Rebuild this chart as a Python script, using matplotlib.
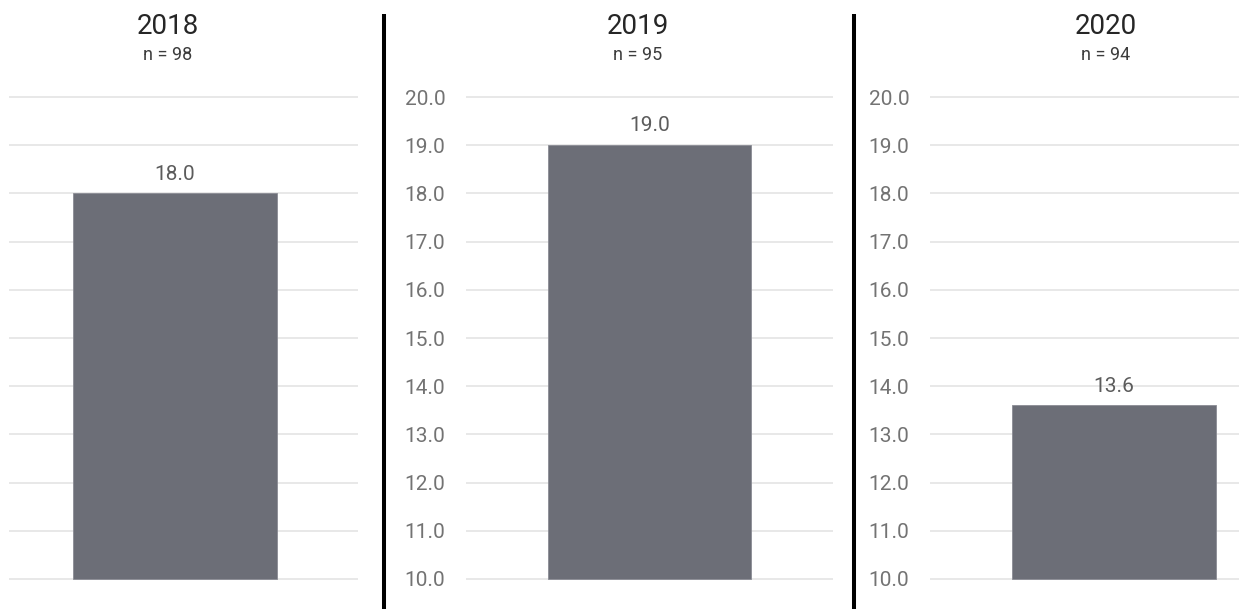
import matplotlib.pyplot as plt
from matplotlib.lines import Line2D

plt.rcParams['font.family'] = ['Roboto', 'DejaVu Sans']

years = ['2018', '2019', '2020']
sample_sizes = [98, 95, 94]
values = [18.0, 19.0, 13.6]
y_ticks = [10, 11, 12, 13, 14, 15, 16, 17, 18, 19, 20]

W, H = 1239, 609
BASE = 10.0
BAR_COLOR = '#6c6e77'
GRID_COLOR = '#e4e4e4'

fig = plt.figure(figsize=(W / 100, H / 100), dpi=100)

# panel boxes in pixels: left edge, width; x-limits around the single bar
panels = [
    (9, 349, (-0.488, 0.538)),
    (466, 367, (-0.542, 0.542)),
    (930, 368, (-0.54, 0.54)),
]
title_x = [168, 638, 1106]

y_lo, y_hi = 9.9, 20.1
px_per_unit = (579 - 97) / 10.0
ax_bottom = 579 + (BASE - y_lo) * px_per_unit
ax_top = 97 - (y_hi - 20) * px_per_unit

for i, (left, width, xl) in enumerate(panels):
    ax = fig.add_axes([left / W, (H - ax_bottom) / H, width / W, (ax_bottom - ax_top) / H])
    ax.bar(0, values[i] - BASE, bottom=BASE, width=0.6, color=BAR_COLOR,
           edgecolor='#8a8c94', linewidth=0.6, zorder=3)
    ax.annotate(f'{values[i]:.1f}', (0, values[i]), xytext=(0, 7), textcoords='offset points',
                ha='center', va='bottom', fontsize=15, color='#5c5c5c', zorder=4)
    ax.set_xlim(*xl)
    ax.set_ylim(y_lo, y_hi)
    ax.set_yticks(y_ticks)
    ax.set_yticklabels([f'{t:.1f}' for t in y_ticks])
    ax.set_xticks([])
    ax.grid(axis='y', color=GRID_COLOR, linewidth=1.2)
    ax.set_axisbelow(True)
    for s in ax.spines.values():
        s.set_visible(False)
    ax.tick_params(axis='y', length=0, pad=15, labelsize=15, labelcolor='#737373')
    if i == 0:
        ax.tick_params(axis='y', labelleft=False)

    fig.text(title_x[i] / W, 1 - 26 / H, years[i], ha='center', va='center',
             fontsize=20, color='#262626')
    fig.text(title_x[i] / W, 1 - 55 / H, f'n = {sample_sizes[i]}', ha='center', va='center',
             fontsize=13, color='#3c3c3c')

# dividers between the year panels
for xp in [384, 854]:
    fig.add_artist(Line2D([xp / W, xp / W], [0, 1 - 14 / H], color='black',
                          linewidth=2.9, solid_capstyle='butt'))

fig.savefig('out.png', dpi=100, facecolor='white')
